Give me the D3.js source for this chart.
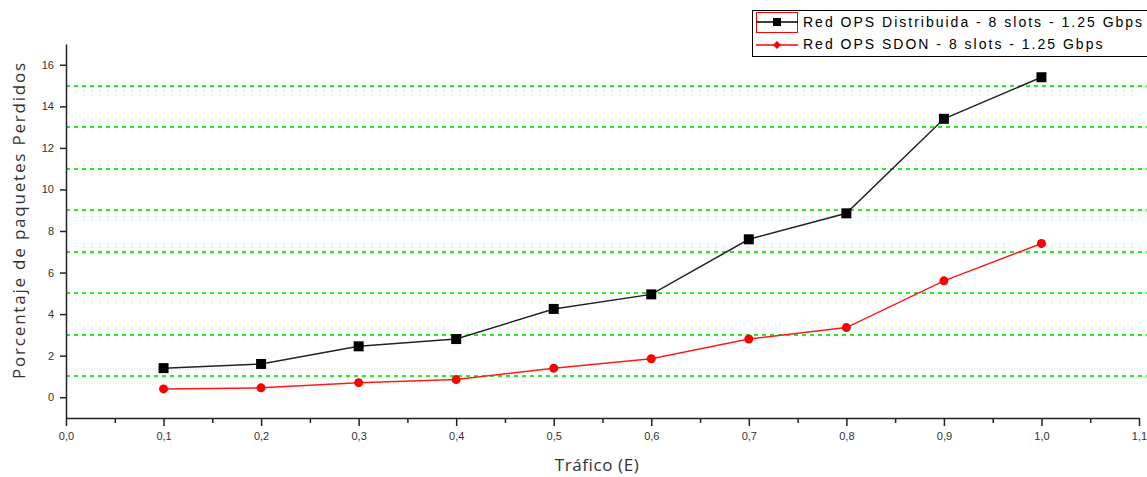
<!DOCTYPE html>
<html>
<head>
<meta charset="utf-8">
<script src="https://cdn.jsdelivr.net/npm/d3@7/dist/d3.min.js"></script>
<style>
  body { margin: 0; background: #fff; }
  svg { display: block; }
  .tick text { font-family: Arial, "Liberation Sans", sans-serif; font-size: 11px; fill: #333; }
</style>
</head>
<body>
<div id="chart-area"></div>
<script>
// data
var trafico = [0.1, 0.2, 0.3, 0.4, 0.5, 0.6, 0.7, 0.8, 0.9, 1.0];
var distribuida = [1.4, 1.6, 2.45, 2.8, 4.25, 4.95, 7.6, 8.85, 13.4, 15.4];
var sdon = [0.4, 0.45, 0.7, 0.85, 1.4, 1.85, 2.8, 3.35, 5.6, 7.4];
var xTicks = [0, 0.1, 0.2, 0.3, 0.4, 0.5, 0.6, 0.7, 0.8, 0.9, 1.0, 1.1];
var yTicks = [0, 2, 4, 6, 8, 10, 12, 14, 16];
var gridVals = [1, 3, 5, 7, 9, 11, 13, 15];
var seriesNames = ['Red OPS Distribuida - 8 slots - 1.25 Gbps', 'Red OPS SDON - 8 slots - 1.25 Gbps'];

var W = 1147, H = 477;
var mLeft = 66, mTop = 44, mRight = 1139, mBottom = 418;

var svg = d3.select('#chart-area').append('svg')
    .attr('width', W)
    .attr('height', H);

var x = d3.scaleLinear().domain([0, 1.1]).range([mLeft, mRight]);
var y = d3.scaleLinear().domain([-1, 17]).range([mBottom, mTop]);

// green dashed grid
svg.append('g').selectAll('line')
    .data(gridVals)
    .enter().append('line')
    .attr('x1', mLeft).attr('x2', W)
    .attr('y1', function(d){ return Math.round(y(d)); })
    .attr('y2', function(d){ return Math.round(y(d)); })
    .attr('stroke', '#22ee22')
    .attr('stroke-width', 2)
    .attr('shape-rendering', 'crispEdges')
    .attr('stroke-dasharray', '4,4');

// x axis with minor ticks
var minor = d3.range(0.05, 1.1, 0.1);
svg.append('g')
    .attr('transform', 'translate(0,' + mBottom + ')')
    .call(d3.axisBottom(x).tickValues(minor).tickSize(5).tickFormat(''))
    .call(function(g){ g.select('.domain').remove(); })
    .selectAll('line').attr('stroke', '#222').attr('stroke-width', 1.5);

var xAxis = svg.append('g')
    .attr('transform', 'translate(0,' + mBottom + ')')
    .call(d3.axisBottom(x).tickValues(xTicks).tickSize(8).tickSizeOuter(0).tickPadding(6)
        .tickFormat(function(d){ return d3.format('.1f')(d).replace('.', ','); }));
xAxis.select('.domain').attr('stroke', '#222').attr('stroke-width', 1.5);
xAxis.selectAll('.tick line').attr('stroke', '#222').attr('stroke-width', 1.5);

var yAxis = svg.append('g')
    .attr('transform', 'translate(' + mLeft + ',0)')
    .call(d3.axisLeft(y).tickValues(yTicks).tickSize(6).tickSizeOuter(0).tickPadding(6));
yAxis.select('.domain').attr('stroke', '#222').attr('stroke-width', 1.5);
yAxis.selectAll('.tick line').attr('stroke', '#222').attr('stroke-width', 1.5);

// lines
var line = d3.line()
    .x(function(d){ return x(d[0]); })
    .y(function(d){ return y(d[1]); });

var blackData = d3.zip(trafico, distribuida);
var redData = d3.zip(trafico, sdon);

svg.append('path').datum(blackData)
    .attr('d', line).attr('fill', 'none')
    .attr('stroke', '#222').attr('stroke-width', 1.5);
svg.append('path').datum(redData)
    .attr('d', line).attr('fill', 'none')
    .attr('stroke', '#ff1a1a').attr('stroke-width', 1.5);

svg.selectAll('rect.pt').data(blackData).enter().append('rect')
    .attr('class', 'pt')
    .attr('x', function(d){ return x(d[0]) - 5; })
    .attr('y', function(d){ return y(d[1]) - 5; })
    .attr('width', 10).attr('height', 10)
    .attr('fill', '#000');

svg.selectAll('circle.pt').data(redData).enter().append('circle')
    .attr('class', 'pt')
    .attr('cx', function(d){ return x(d[0]); })
    .attr('cy', function(d){ return y(d[1]); })
    .attr('r', 4.5)
    .attr('fill', '#ff0000');

// axis titles
svg.append('text')
    .attr('x', 597).attr('y', 471)
    .attr('text-anchor', 'middle')
    .attr('font-family', '"Open Sans", sans-serif')
    .attr('font-size', 17)
    .attr('letter-spacing', 0.6)
    .attr('fill', '#333')
    .text('Tráfico (E)');

svg.append('text')
    .attr('transform', 'translate(25,220) rotate(-90)')
    .attr('text-anchor', 'middle')
    .attr('font-family', '"Open Sans", sans-serif')
    .attr('font-size', 17)
    .attr('letter-spacing', 1.8)
    .attr('fill', '#333')
    .text('Porcentaje de paquetes Perdidos');

// legend
var lg = svg.append('g');
lg.append('rect')
    .attr('x', 752.5).attr('y', 10.5)
    .attr('width', 420).attr('height', 46)
    .attr('fill', '#fff').attr('stroke', '#000').attr('stroke-width', 1);
lg.append('rect')
    .attr('x', 756.5).attr('y', 12.5)
    .attr('width', 41).attr('height', 20)
    .attr('fill', 'none').attr('stroke', '#ff0000').attr('stroke-width', 1);
lg.append('line').attr('x1', 756).attr('x2', 798).attr('y1', 22).attr('y2', 22)
    .attr('stroke', '#000').attr('stroke-width', 1.5);
lg.append('rect').attr('x', 773).attr('y', 18).attr('width', 8).attr('height', 8).attr('fill', '#000');
lg.append('line').attr('x1', 756).attr('x2', 798).attr('y1', 45).attr('y2', 45)
    .attr('stroke', '#ff0000').attr('stroke-width', 1.5);
lg.append('path').attr('d', 'M777,41 L781,45 L777,49 L773,45 Z').attr('fill', '#ff0000');

lg.selectAll('text.lbl').data(seriesNames).enter().append('text')
    .attr('class', 'lbl')
    .attr('x', 803)
    .attr('y', function(d, i){ return 27 + i * 22; })
    .attr('font-family', 'Arial, "Liberation Sans", sans-serif')
    .attr('font-size', 14)
    .attr('letter-spacing', 2)
    .attr('fill', '#000')
    .text(function(d){ return d; });
</script>
</body>
</html>
